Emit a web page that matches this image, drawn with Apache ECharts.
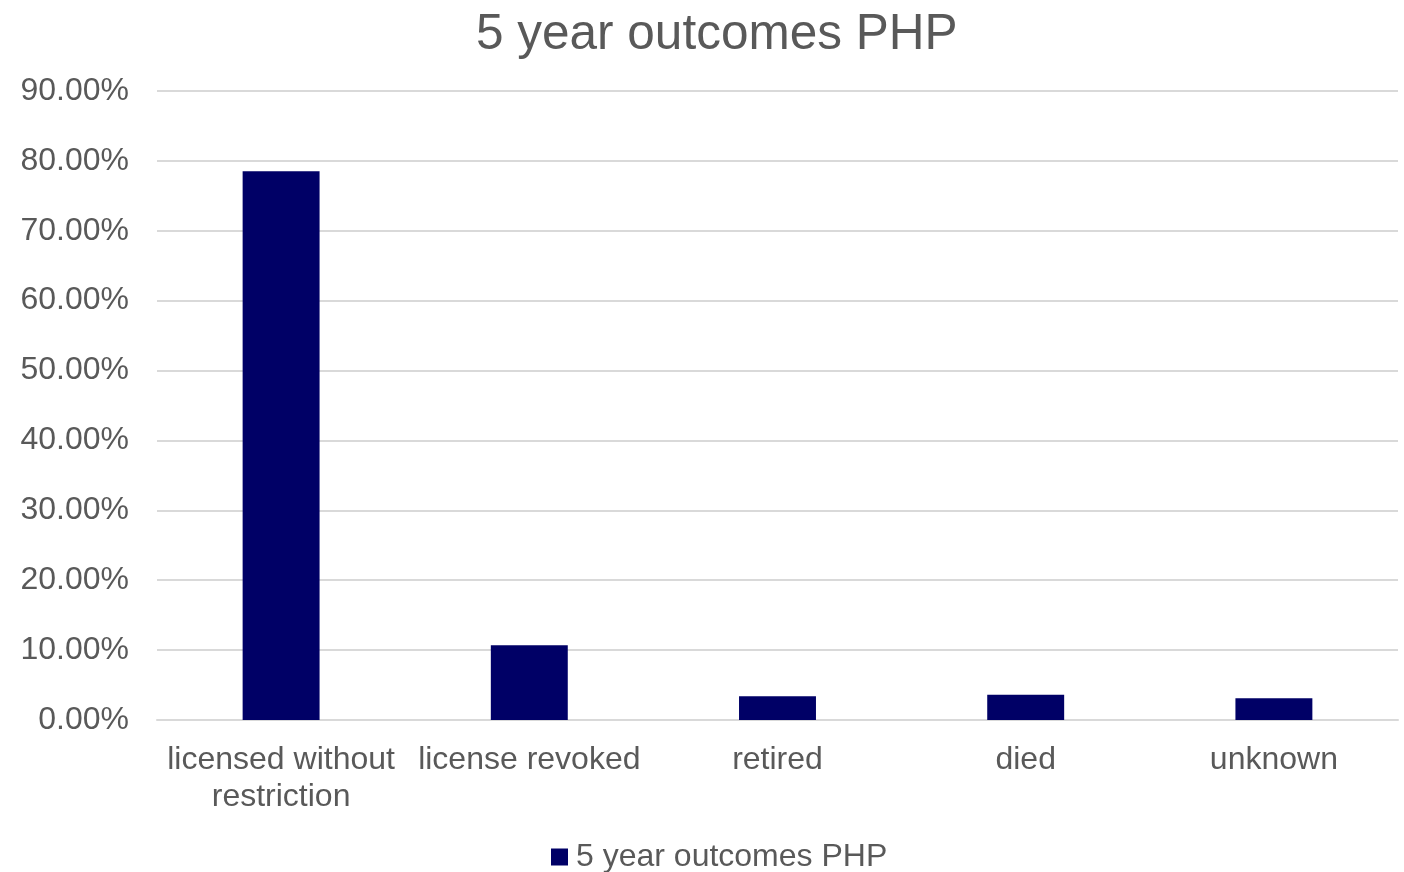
<!DOCTYPE html>
<html>
<head>
<meta charset="utf-8">
<script src="https://cdn.jsdelivr.net/npm/echarts@6/dist/echarts.min.js"></script>
<style>
  html, body { margin: 0; padding: 0; background: #fff; }
  #chart { width: 1404px; height: 872px; }
</style>
</head>
<body>
<div id="chart"></div>
<script>
// Outcome categories and their share after five years (percent)
const categories = ['licensed without\nrestriction', 'license revoked', 'retired', 'died', 'unknown'];
const seriesName = '5 year outcomes PHP';
const outcomeShares = [78.5, 10.7, 3.4, 3.6, 3.1];

const textColor = '#595959';
const fontFamily = '"Liberation Sans", Arial, sans-serif';

const chart = echarts.init(document.getElementById('chart'));
chart.setOption({
  animation: false,
  backgroundColor: '#ffffff',
  title: {
    text: '5 year outcomes PHP',
    left: 471,
    top: 5,
    textStyle: { color: textColor, fontFamily, fontSize: 49.5, fontWeight: 'normal' }
  },
  legend: {
    top: 836,
    left: 546,
    itemWidth: 17,
    itemHeight: 17,
    icon: 'rect',
    textStyle: { color: textColor, fontFamily, fontSize: 32, padding: [0, 0, 0, 3] },
    data: [seriesName]
  },
  grid: { left: 157, right: 6, top: 91, bottom: 152 },
  xAxis: {
    type: 'category',
    data: categories,
    axisTick: { show: false },
    axisLine: { lineStyle: { color: '#d9d9d9', width: 2 } },
    axisLabel: {
      color: textColor, fontFamily, fontSize: 32, lineHeight: 37,
      margin: 22, interval: 0
    }
  },
  yAxis: {
    type: 'value',
    min: 0,
    max: 90,
    interval: 10,
    axisLine: { show: false },
    axisTick: { show: false },
    splitLine: { lineStyle: { color: '#d9d9d9', width: 2 } },
    axisLabel: {
      color: textColor, fontFamily, fontSize: 32, margin: 28,
      formatter: v => v.toFixed(2) + '%'
    }
  },
  series: [{
    name: seriesName,
    type: 'bar',
    data: outcomeShares,
    barWidth: '31%',
    itemStyle: { color: '#000066' }
  }]
});
</script>
</body>
</html>
